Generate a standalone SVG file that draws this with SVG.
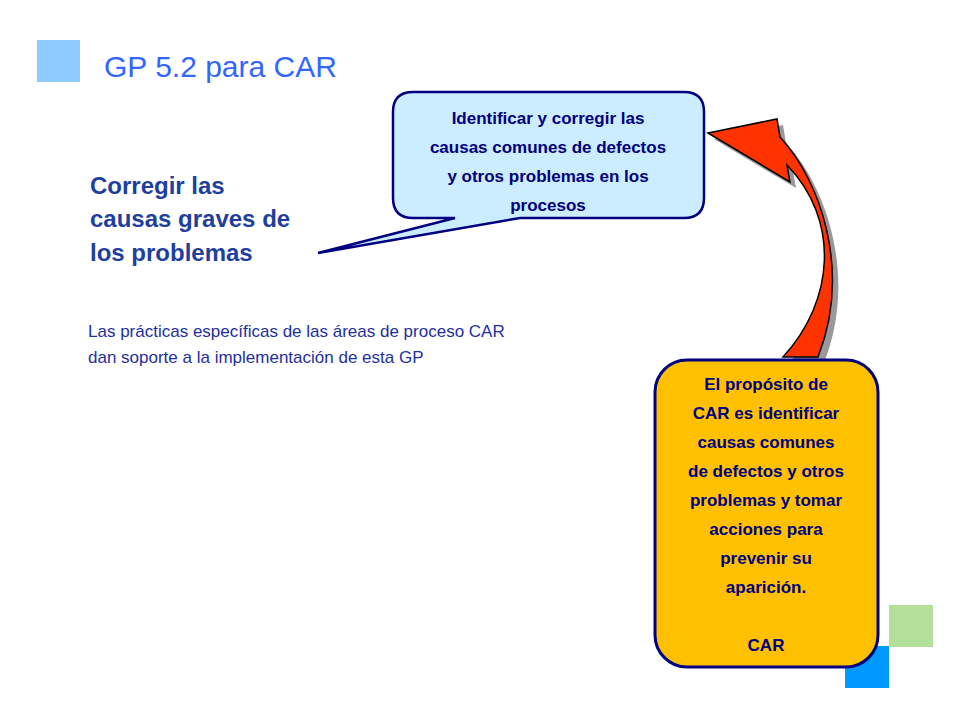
<svg xmlns="http://www.w3.org/2000/svg" width="960" height="720" viewBox="0 0 960 720">
<style>
text{font-family:"Liberation Sans",Arial,sans-serif}
.b{font-weight:bold;fill:#000080;text-anchor:middle;font-size:17px}
</style>
<rect width="960" height="720" fill="#fff"/>
<rect x="37" y="40" width="43" height="42" fill="#8fcbff"/>
<rect x="889" y="605" width="44" height="42" fill="#b3e09b"/>
<rect x="845" y="646" width="44" height="42" fill="#0099ff"/>
<text x="104" y="77" font-size="30" fill="#3366ff">GP 5.2 para CAR</text>
<text x="90" y="194" font-size="24" font-weight="bold" fill="#1f3f9f">Corregir las</text>
<text x="90" y="227" font-size="24" font-weight="bold" fill="#1f3f9f">causas graves de</text>
<text x="90" y="261" font-size="24" font-weight="bold" fill="#1f3f9f">los problemas</text>
<text x="88" y="337" font-size="17" fill="#1f2f9f">Las prácticas específicas de las áreas de proceso CAR</text>
<text x="88" y="363" font-size="17" fill="#1f2f9f">dan soporte a la implementación de esta GP</text>
<g id="callout">
<path d="M413,92 H684 Q704,92 704,112 V198 Q704,218 684,218 H520 L318,253 L455,218 H413 Q393,218 393,198 V112 Q393,92 413,92 Z" fill="#ccecff" stroke="#000080" stroke-width="2.5"/>
<text class="b" x="548" y="124">Identificar y corregir las</text>
<text class="b" x="548" y="153">causas comunes de defectos</text>
<text class="b" x="548" y="182">y otros problemas en los</text>
<text class="b" x="548" y="211">procesos</text>
</g>
<g id="connectors">
<path transform="translate(6,6)" d="M708,133 L777,119 L780,137 C820,180 852,270 818,357 L783,357 C835,300 840,220 787,165 L790,182 Z" fill="#999"/>
<path d="M708,133 L777,119 L780,137 C820,180 852,270 818,357 L783,357 C835,300 840,220 787,165 L790,182 Z" fill="#ff3300" stroke="#000" stroke-width="1.5"/>
</g>
<g id="purpose">
<rect x="655" y="360" width="223" height="307" rx="32" fill="#ffc000" stroke="#000080" stroke-width="3"/>
<text class="b" x="766" y="390">El propósito de</text>
<text class="b" x="766" y="419">CAR es identificar</text>
<text class="b" x="766" y="448">causas comunes</text>
<text class="b" x="766" y="477">de defectos y otros</text>
<text class="b" x="766" y="506">problemas y tomar</text>
<text class="b" x="766" y="535">acciones para</text>
<text class="b" x="766" y="564">prevenir su</text>
<text class="b" x="766" y="593">aparición.</text>
<text class="b" x="766" y="651">CAR</text>
</g>
</svg>
